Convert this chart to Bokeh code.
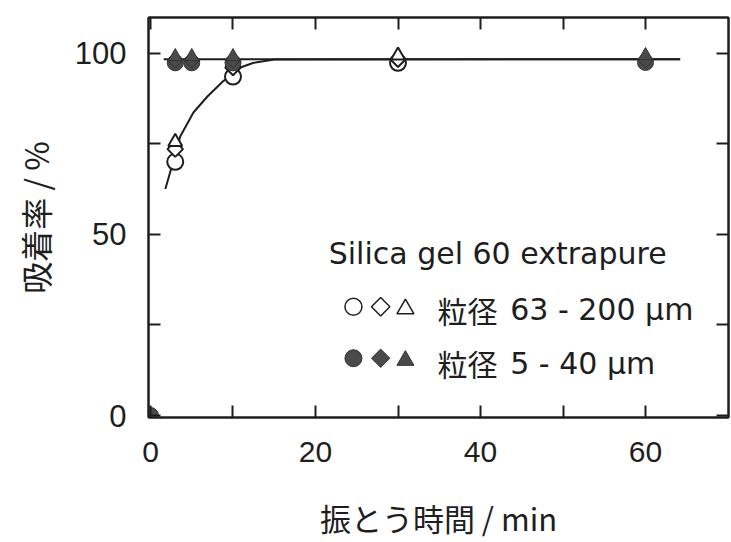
import numpy as np
from bokeh.plotting import figure
from bokeh.models import LinearAxis, FixedTicker, Range1d, Label
from bokeh.embed import file_html
from bokeh.resources import INLINE

# ---- data ----
# fine particles (5 - 40 um), filled markers
t_fine_circle = [0, 3, 5, 10, 60]
fine_circle = [0, 97.3, 97.3, 97.3, 97.4]
t_fine = [3, 5, 10, 60]
fine_diamond = [98.0, 98.0, 98.0, 98.1]
fine_triangle = [99.0, 99.0, 99.0, 99.3]

# coarse particles (63 - 200 um), open markers
t_coarse = [3, 10, 30]
coarse_circle = [70.0, 93.5, 97.3]
coarse_diamond = [73.5, 96.0, 98.3]
coarse_triangle = [75.5, 97.5, 99.3]

# hand-drawn trend curves
curve_coarse_t = [1.8, 3, 3.6, 5.2, 6.9, 8.7, 10, 10.9, 12.5, 15, 64.2]
curve_coarse_y = [62.5, 72.0, 77.0, 83.6, 88.0, 92.0, 94.5, 96.0, 97.3, 98.2, 98.3]
curve_fine_t = [1.6, 64.2]
curve_fine_y = [98.3, 98.3]

x_label_ticks = [0, 20, 40, 60]
x_minor = [10, 30, 50]
y_label_ticks = [0, 50, 100]
y_minor = [25, 75]

legend_title = "Silica gel 60 extrapure"
legend_cjk = "粒径"
legend_coarse = "63 - 200 μm"
legend_fine = "5 - 40 μm"
x_title = "振とう時間 / min"
y_title = "吸着率 / %"

INK = "#1e1e1e"
FILL = "#4a4a4a"
CJK = "Noto Sans CJK JP"
LAT = "DejaVu Sans"

p = figure(width=730, height=542, output_backend="svg", toolbar_location=None,
           x_range=Range1d(-0.242, 70.06), y_range=Range1d(-0.545, 109.8),
           x_axis_type=None, y_axis_type=None,
           min_border_left=148, min_border_right=2, min_border_top=17,
           min_border_bottom=120)
p.grid.visible = False
p.outline_line_color = INK
p.outline_line_width = 2
p.background_fill_color = "white"
p.border_fill_color = "white"


def style(ax, ticks, labels=True):
    ax.axis_line_color = INK
    ax.axis_line_width = 2
    ax.major_tick_line_color = INK
    ax.minor_tick_line_color = INK
    ax.major_tick_line_width = 2
    ax.minor_tick_line_width = 2
    ax.major_tick_in = 12
    ax.major_tick_out = 0
    ax.minor_tick_in = 12
    ax.minor_tick_out = 0
    if not labels:
        ax.major_label_overrides = {t: "" for t in ticks}
        ax.major_label_standoff = 0


xb = LinearAxis(ticker=FixedTicker(ticks=x_label_ticks, minor_ticks=x_minor))
style(xb, x_label_ticks)
xb.major_label_text_font = "Liberation Sans Narrow, Liberation Sans"
xb.major_label_text_font_size = "30px"
xb.major_label_text_color = INK
xb.major_label_standoff = 24
xb.axis_label = x_title
xb.axis_label_text_font = CJK
xb.axis_label_text_font_size = "31px"
xb.axis_label_text_font_style = "normal"
xb.axis_label_text_color = INK
xb.axis_label_standoff = 30
p.add_layout(xb, "below")

xt = LinearAxis(ticker=FixedTicker(ticks=x_label_ticks, minor_ticks=x_minor))
style(xt, x_label_ticks, labels=False)
p.add_layout(xt, "above")

yl = LinearAxis(ticker=FixedTicker(ticks=y_label_ticks, minor_ticks=y_minor))
style(yl, y_label_ticks)
yl.major_label_text_font = "Liberation Sans"
yl.major_label_text_font_size = "31px"
yl.major_label_text_color = INK
yl.major_label_standoff = 22
yl.axis_label = y_title
yl.axis_label_text_font = CJK
yl.axis_label_text_font_size = "32px"
yl.axis_label_text_font_style = "normal"
yl.axis_label_text_color = INK
yl.axis_label_standoff = 14
p.add_layout(yl, "left")

yr = LinearAxis(ticker=FixedTicker(ticks=y_label_ticks, minor_ticks=y_minor))
style(yr, y_label_ticks, labels=False)
p.add_layout(yr, "right")

# trend curves
p.line(curve_coarse_t, curve_coarse_y, line_color=INK, line_width=2)
p.line(curve_fine_t, curve_fine_y, line_color=INK, line_width=2)

# open markers (coarse)
p.scatter(t_coarse, coarse_circle, marker="circle", size=16, fill_color="white",
          line_color=INK, line_width=2)
p.scatter(t_coarse, coarse_diamond, marker="square", angle=np.pi / 4, size=11,
          fill_color="white", line_color=INK, line_width=2)
p.scatter(t_coarse, coarse_triangle, marker="triangle", size=14, fill_color="white",
          line_color=INK, line_width=2)

# filled markers (fine)
p.scatter(t_fine_circle, fine_circle, marker="circle", size=16, fill_color=FILL,
          line_color="#333333", line_width=1)
p.scatter(t_fine, fine_diamond, marker="square", angle=np.pi / 4, size=11,
          fill_color=FILL, line_color="#333333", line_width=1)
p.scatter(t_fine, fine_triangle, marker="triangle", size=14, fill_color=FILL,
          line_color="#333333", line_width=1)

# legend (drawn as annotation)
key_x = [24.6, 27.9, 30.9]
key_y_coarse = 30.0
key_y_fine = 15.8
p.scatter([key_x[0]], [key_y_coarse], marker="circle", size=17, fill_color="white",
          line_color=INK, line_width=1.5)
p.scatter([key_x[1]], [key_y_coarse], marker="square", angle=np.pi / 4, size=13,
          fill_color="white", line_color=INK, line_width=1.5)
p.scatter([key_x[2]], [key_y_coarse - 0.6], marker="triangle", size=17, fill_color="white",
          line_color=INK, line_width=1.5)
p.scatter([key_x[0]], [key_y_fine], marker="circle", size=17, fill_color=FILL,
          line_color="#333333", line_width=1)
p.scatter([key_x[1]], [key_y_fine], marker="square", angle=np.pi / 4, size=13,
          fill_color=FILL, line_color="#333333", line_width=1)
p.scatter([key_x[2]], [key_y_fine - 0.6], marker="triangle", size=17, fill_color=FILL,
          line_color="#333333", line_width=1)

p.add_layout(Label(x=21.6, y=44.7, text=legend_title, text_font=LAT,
                   text_font_size="30px", text_color=INK, text_baseline="alphabetic"))
p.add_layout(Label(x=34.8, y=29.2, text=legend_cjk, text_font=CJK,
                   text_font_size="30px", text_color=INK, text_baseline="alphabetic"))
p.add_layout(Label(x=43.6, y=29.2, text=legend_coarse, text_font=LAT,
                   text_font_size="30px", text_color=INK, text_baseline="alphabetic"))
p.add_layout(Label(x=34.8, y=14.4, text=legend_cjk, text_font=CJK,
                   text_font_size="30px", text_color=INK, text_baseline="alphabetic"))
p.add_layout(Label(x=43.6, y=14.4, text=legend_fine, text_font=LAT,
                   text_font_size="30px", text_color=INK, text_baseline="alphabetic"))

open("out.html", "w").write(file_html(p, INLINE))
